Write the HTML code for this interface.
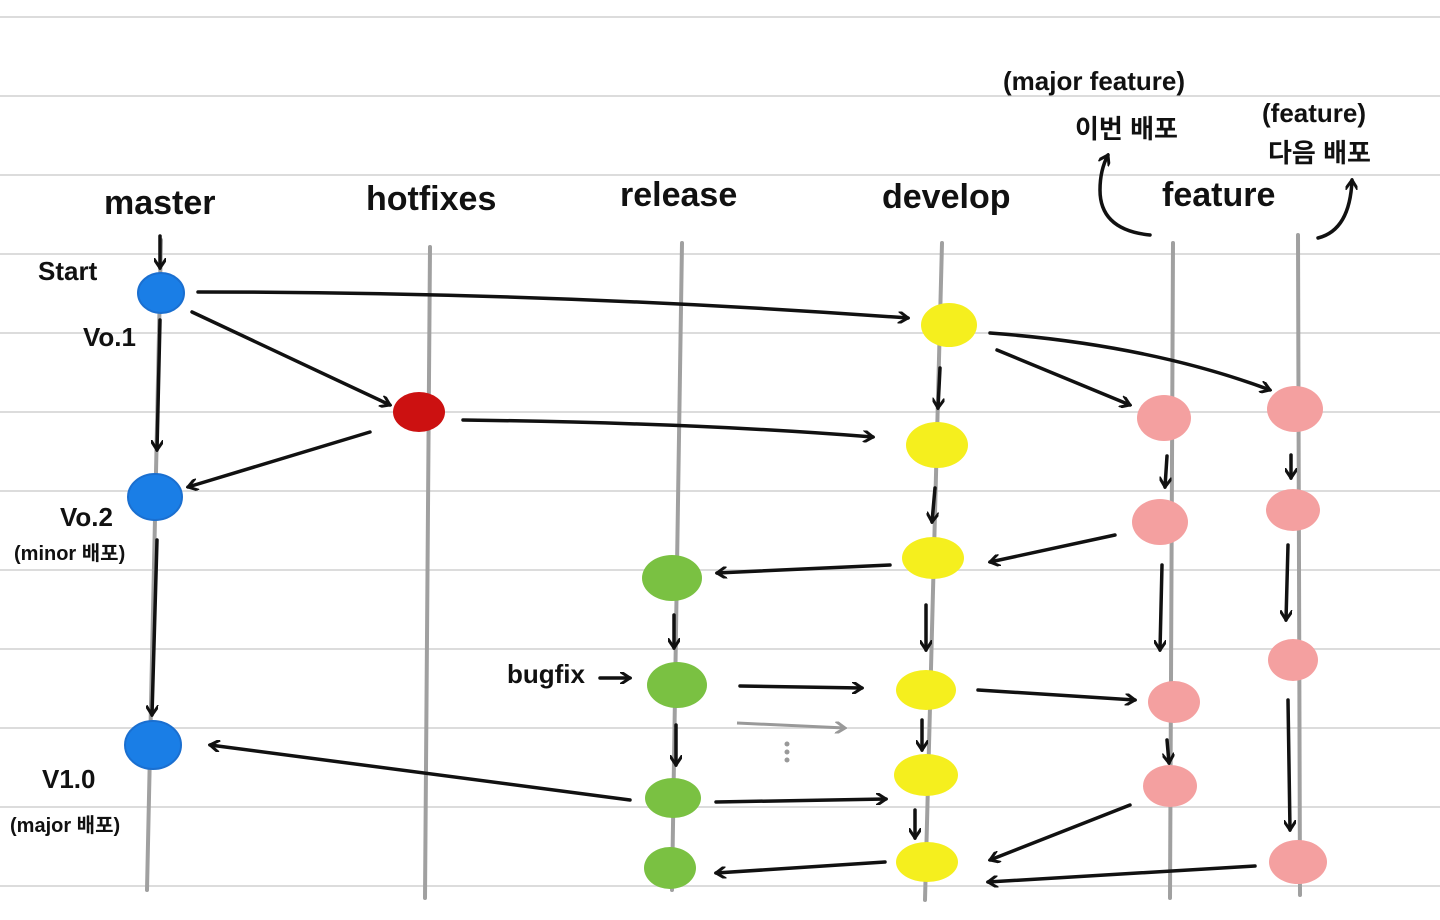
<!DOCTYPE html>
<html><head><meta charset="utf-8"><style>
html,body{margin:0;padding:0;background:#fff;}
svg{display:block}
text{font-family:"Liberation Sans","Noto Sans CJK KR",sans-serif;fill:#111;}
</style></head><body>
<svg width="1440" height="920" viewBox="0 0 1440 920" xmlns="http://www.w3.org/2000/svg">
<defs>
<marker id="a" markerWidth="12" markerHeight="12" refX="10" refY="6" orient="auto" markerUnits="userSpaceOnUse">
<path d="M1,0 L10,6 L1,12" fill="none" stroke="#111" stroke-width="3" stroke-linecap="round"/>
</marker>
<marker id="g" markerWidth="12" markerHeight="12" refX="10" refY="6" orient="auto" markerUnits="userSpaceOnUse">
<path d="M1,0 L10,6 L1,12" fill="none" stroke="#999" stroke-width="3" stroke-linecap="round"/>
</marker>
</defs>
<g stroke="#dcdcdc" stroke-width="2">
<line x1="0" y1="17" x2="1440" y2="17"/><line x1="0" y1="96" x2="1440" y2="96"/>
<line x1="0" y1="175" x2="1440" y2="175"/><line x1="0" y1="254" x2="1440" y2="254"/>
<line x1="0" y1="333" x2="1440" y2="333"/><line x1="0" y1="412" x2="1440" y2="412"/>
<line x1="0" y1="491" x2="1440" y2="491"/><line x1="0" y1="570" x2="1440" y2="570"/>
<line x1="0" y1="649" x2="1440" y2="649"/><line x1="0" y1="728" x2="1440" y2="728"/>
<line x1="0" y1="807" x2="1440" y2="807"/><line x1="0" y1="886" x2="1440" y2="886"/>
</g>
<g stroke="#a0a0a0" stroke-width="4" stroke-linecap="round">
<line x1="161" y1="240" x2="147" y2="890"/>
<line x1="430" y1="247" x2="425" y2="898"/>
<line x1="682" y1="243" x2="672" y2="890"/>
<line x1="942" y1="243" x2="925" y2="900"/>
<line x1="1173" y1="243" x2="1170" y2="898"/>
<line x1="1298" y1="235" x2="1300" y2="895"/>
</g>
<g font-size="34" font-weight="bold">
<text x="104" y="214">master</text>
<text x="366" y="210">hotfixes</text>
<text x="620" y="206">release</text>
<text x="882" y="208">develop</text>
<text x="1162" y="206">feature</text>
</g>
<g font-size="26" font-weight="bold">
<text x="38" y="280">Start</text>
<text x="83" y="346">Vo.1</text>
<text x="60" y="526">Vo.2</text>
<text x="42" y="788">V1.0</text>
<text x="507" y="683">bugfix</text>
<text x="1003" y="90">(major feature)</text>
<text x="1262" y="122">(feature)</text>
</g>
<g font-size="20" font-weight="bold">
<text x="14" y="560">(minor 배포)</text>
<text x="10" y="832">(major 배포)</text>
</g>
<g font-size="26" font-weight="bold">
<text x="1075" y="138">이번 배포</text>
<text x="1268" y="162">다음 배포</text>
</g>
<g stroke="#111" stroke-width="3.5" fill="none" stroke-linecap="round" marker-end="url(#a)">
<path d="M160,236 L160,268"/>
<path d="M198,292 Q550,292 908,318"/>
<path d="M192,312 L390,405"/>
<path d="M160,320 L157,450"/>
<path d="M370,432 L188,487"/>
<path d="M463,420 Q700,423 873,437"/>
<path d="M157,540 L152,715"/>
<path d="M990,333 Q1150,345 1270,390"/>
<path d="M997,350 L1130,405"/>
<path d="M940,368 L938,408"/>
<path d="M935,488 L932,522"/>
<path d="M1115,535 L990,562"/>
<path d="M890,565 L717,573"/>
<path d="M1167,456 L1165,487"/>
<path d="M1291,455 L1291,478"/>
<path d="M1288,545 L1286,620"/>
<path d="M674,615 L674,648"/>
<path d="M926,605 L926,650"/>
<path d="M1162,565 L1160,650"/>
<path d="M740,686 L862,688"/>
<path d="M978,690 L1135,700"/>
<path d="M600,678 L630,678"/>
<path d="M676,725 L676,765"/>
<path d="M922,720 L922,750"/>
<path d="M1167,740 L1169,763"/>
<path d="M1288,700 L1290,830"/>
<path d="M630,800 L210,745"/>
<path d="M716,802 L886,799"/>
<path d="M915,810 L915,838"/>
<path d="M1130,805 L990,860"/>
<path d="M1255,866 L988,882"/>
<path d="M885,862 L716,873"/>
<path d="M1150,235 Q1100,230 1100,190 Q1100,170 1108,155"/>
<path d="M1318,238 Q1350,230 1352,180"/>
</g>
<path d="M737,723 L845,728" stroke="#999" stroke-width="3" fill="none" marker-end="url(#g)"/>
<g fill="#999"><circle cx="787" cy="744" r="2.5"/><circle cx="787" cy="752" r="2.5"/><circle cx="787" cy="760" r="2.5"/></g>
<g fill="#1a7ee6" stroke="#1a6fd0" stroke-width="2">
<ellipse cx="161" cy="293" rx="23" ry="20"/>
<ellipse cx="155" cy="497" rx="27" ry="23"/>
<ellipse cx="153" cy="745" rx="28" ry="24"/>
</g>
<ellipse cx="419" cy="412" rx="26" ry="20" fill="#cc1111"/>
<g fill="#f5ef1e">
<ellipse cx="949" cy="325" rx="28" ry="22"/>
<ellipse cx="937" cy="445" rx="31" ry="23"/>
<ellipse cx="933" cy="558" rx="31" ry="21"/>
<ellipse cx="926" cy="690" rx="30" ry="20"/>
<ellipse cx="926" cy="775" rx="32" ry="21"/>
<ellipse cx="927" cy="862" rx="31" ry="20"/>
</g>
<g fill="#7ac142">
<ellipse cx="672" cy="578" rx="30" ry="23"/>
<ellipse cx="677" cy="685" rx="30" ry="23"/>
<ellipse cx="673" cy="798" rx="28" ry="20"/>
<ellipse cx="670" cy="868" rx="26" ry="21"/>
</g>
<g fill="#f4a0a0">
<ellipse cx="1164" cy="418" rx="27" ry="23"/>
<ellipse cx="1160" cy="522" rx="28" ry="23"/>
<ellipse cx="1174" cy="702" rx="26" ry="21"/>
<ellipse cx="1170" cy="786" rx="27" ry="21"/>
<ellipse cx="1295" cy="409" rx="28" ry="23"/>
<ellipse cx="1293" cy="510" rx="27" ry="21"/>
<ellipse cx="1293" cy="660" rx="25" ry="21"/>
<ellipse cx="1298" cy="862" rx="29" ry="22"/>
</g>
</svg>
</body></html>
